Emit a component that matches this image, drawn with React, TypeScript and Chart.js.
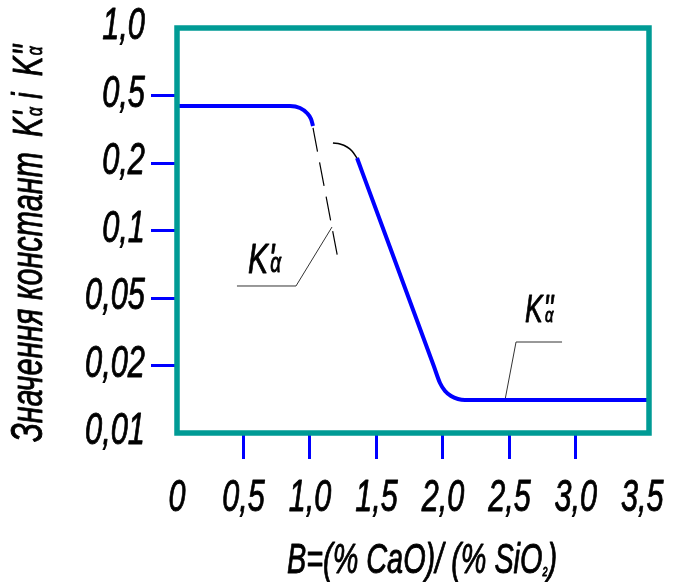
import React, { useEffect, useRef } from "react";
import { Chart, registerables } from "chart.js";

Chart.register(...registerables);

// Axis ticks (y axis is drawn with evenly spaced levels 0..6)
const yTickLabels = ["0,01", "0,02", "0,05", "0,1", "0,2", "0,5", "1,0"];
const yTickLevels = [0, 1, 2, 3, 4, 5, 6];
const xTickValues = [0, 0.5, 1, 1.5, 2, 2.5, 3, 3.5];
const xTickLabels = ["0", "0,5", "1,0", "1,5", "2,0", "2,5", "3,0", "3,5"];

// K'α curve (solid blue part)
const kPrimeB = [0, 0.85, 0.925, 0.977, 1.008, 1.023];
const kPrimeLevel = [4.844, 4.844, 4.815, 4.741, 4.652, 4.548];
// K'α extrapolation (dashed)
const kPrimeDashB = [1.023, 1.218];
const kPrimeDashLevel = [4.519, 2.504];
// K''α start arc (thin black)
const kDoubleArcB = [1.173, 1.226, 1.279, 1.316, 1.354];
const kDoubleArcLevel = [4.296, 4.281, 4.237, 4.178, 4.074];
// K''α curve (solid blue)
const kDoubleB = [1.354, 1.4, 1.93, 1.978, 2.016, 2.061, 2.113, 2.166, 3.55];
const kDoubleLevel = [4.074, 3.828, 1.0, 0.741, 0.622, 0.548, 0.504, 0.489, 0.489];
// leader lines for the labels
const leaderPrimeB = [1.166, 0.895, 0.451];
const leaderPrimeLevel = [3.052, 2.178, 2.178];
const leaderDoubleB = [2.467, 2.55, 2.896];
const leaderDoubleLevel = [0.489, 1.348, 1.348];

const FONT = '"Liberation Sans", Arial, sans-serif';
const font = (s: number) => `italic ${s}px ${FONT}`;

type Run = { t: string; size: number; dx?: number; dy?: number; adv?: boolean };

function drawRuns(
  ctx: CanvasRenderingContext2D,
  x: number,
  y: number,
  parts: Run[],
  sx: number,
  angle = 0,
  align: "left" | "center" | "right" = "left",
  fit = 0,
  bold = 0.9
) {
  ctx.save();
  ctx.translate(x, y);
  if (angle) ctx.rotate(angle);
  let total = 0;
  for (const p of parts) {
    ctx.font = font(p.size);
    if (p.adv !== false) total += ctx.measureText(p.t).width + (p.dx || 0);
  }
  const s = fit > 0 ? fit / total : sx;
  ctx.scale(s, 1);
  let cx = align === "center" ? -total / 2 : align === "right" ? -total : 0;
  ctx.textAlign = "left";
  ctx.textBaseline = "alphabetic";
  ctx.fillStyle = "#000";
  ctx.strokeStyle = "#000";
  ctx.lineJoin = "round";
  ctx.lineWidth = bold;
  for (const p of parts) {
    ctx.font = font(p.size);
    ctx.fillText(p.t, cx + (p.dx || 0), p.dy || 0);
    if (bold > 0) ctx.strokeText(p.t, cx + (p.dx || 0), p.dy || 0);
    if (p.adv !== false) cx += ctx.measureText(p.t).width + (p.dx || 0);
  }
  ctx.restore();
}

const pts = (xs: number[], ys: number[]) => xs.map((x, i) => ({ x, y: ys[i] }));

const decorPlugin = {
  id: "decor",
  afterDatasetsDraw(chart: any) {
    const { ctx, chartArea } = chart;
    const { left, top, right, bottom } = chartArea;
    ctx.save();
    ctx.strokeStyle = "#009B95";
    ctx.lineWidth = 5.5;
    ctx.strokeRect(left, top, right - left, bottom - top);
    ctx.restore();
  },
  afterDraw(chart: any) {
    const { ctx } = chart;
    const xs = chart.scales.x;
    const ys = chart.scales.y;
    xTickValues.forEach((v, i) => {
      drawRuns(ctx, xs.getPixelForValue(v), 511, [{ t: xTickLabels[i], size: 45 }], 0.68, 0, "center");
    });
    yTickLevels.forEach((v, i) => {
      drawRuns(ctx, 145, ys.getPixelForValue(v) + 11, [{ t: yTickLabels[i], size: 44 }], 0.7, 0, "right");
    });
    // x title
    drawRuns(
      ctx,
      422,
      573,
      [
        { t: "B=(% CaO)/ (% SiO", size: 42 },
        { t: "2", size: 13, dy: 3 },
        { t: ")", size: 42 },
      ],
      0.7,
      0,
      "center",
      270
    );
    // y title
    drawRuns(ctx, 42, 442, [{ t: "Значення констант", size: 45 }], 0.7, -Math.PI / 2, "left", 290);
    drawRuns(
      ctx,
      42,
      137,
      [
        { t: "K", size: 42 },
        { t: "'", size: 42, adv: false, dx: 1 },
        { t: "α", size: 22, dx: 2 },
        { t: " і  ", size: 42 },
        { t: "K", size: 42 },
        { t: "''", size: 42, adv: false, dx: 1 },
        { t: "α", size: 22, dx: 2 },
      ],
      0.7,
      -Math.PI / 2,
      "left"
    );
    // K'α label
    const p1x = xs.getPixelForValue(leaderPrimeB[2]) + 11;
    const p1y = ys.getPixelForValue(leaderPrimeLevel[2]) - 13;
    drawRuns(
      ctx,
      p1x,
      p1y,
      [
        { t: "K", size: 43 },
        { t: "'", size: 43, adv: false, dx: 1 },
        { t: "α", size: 27, dx: 3, dy: -1 },
      ],
      0.7
    );
    // K''α label
    const p2x = xs.getPixelForValue(leaderDoubleB[1]) + 9;
    const p2y = ys.getPixelForValue(leaderDoubleLevel[1]) - 20;
    drawRuns(
      ctx,
      p2x,
      p2y,
      [
        { t: "K", size: 38 },
        { t: "''", size: 38, adv: false, dx: 1 },
        { t: "α", size: 21, dx: 3 },
      ],
      0.7
    );
  },
};

export default function App() {
  const ref = useRef<HTMLCanvasElement | null>(null);
  useEffect(() => {
    if (!ref.current) return;
    const blue = "#0000FF";
    const tickColor = (edge: number[]) => (c: any) =>
      c.tick && edge.includes(c.tick.value) ? "rgba(0,0,0,0)" : blue;
    const chart = new Chart(ref.current, {
      type: "line",
      data: {
        datasets: [
          {
            label: "K'α",
            data: pts(kPrimeB, kPrimeLevel),
            borderColor: blue,
            borderWidth: 4,
            pointRadius: 0,
            cubicInterpolationMode: "monotone",
          },
          {
            label: "K'α extrapolation",
            data: pts(kPrimeDashB, kPrimeDashLevel),
            borderColor: "#000",
            borderWidth: 1.2,
            borderDash: [24, 11],
            pointRadius: 0,
          },
          {
            label: "K''α arc",
            data: pts(kDoubleArcB, kDoubleArcLevel),
            borderColor: "#000",
            borderWidth: 1.5,
            pointRadius: 0,
            cubicInterpolationMode: "monotone",
          },
          {
            label: "K''α",
            data: pts(kDoubleB, kDoubleLevel),
            borderColor: blue,
            borderWidth: 4,
            pointRadius: 0,
            cubicInterpolationMode: "monotone",
          },
          {
            label: "leader K'α",
            data: pts(leaderPrimeB, leaderPrimeLevel),
            borderColor: "#333",
            borderWidth: 1,
            pointRadius: 0,
          },
          {
            label: "leader K''α",
            data: pts(leaderDoubleB, leaderDoubleLevel),
            borderColor: "#333",
            borderWidth: 1,
            pointRadius: 0,
          },
        ],
      },
      options: {
        animation: false,
        responsive: false,
        layout: { padding: { left: 151, top: 28, right: 32, bottom: 123 } },
        plugins: { legend: { display: false }, tooltip: { enabled: false } },
        scales: {
          x: {
            type: "linear",
            min: 0,
            max: 3.55,
            afterBuildTicks: (s: any) => {
              s.ticks = xTickValues.map((v) => ({ value: v }));
            },
            ticks: { display: false },
            border: { display: false },
            grid: {
              drawOnChartArea: false,
              drawTicks: true,
              tickLength: 26,
              lineWidth: 3,
              color: tickColor([0, 3.5]),
            },
          },
          y: {
            type: "linear",
            min: 0,
            max: 6,
            afterBuildTicks: (s: any) => {
              s.ticks = yTickLevels.map((v) => ({ value: v }));
            },
            ticks: { display: false },
            border: { display: false },
            grid: {
              drawOnChartArea: false,
              drawTicks: true,
              tickLength: 26,
              lineWidth: 3,
              color: tickColor([0, 6]),
            },
          },
        },
      } as any,
      plugins: [decorPlugin],
    });
    return () => chart.destroy();
  }, []);
  return (
    <div style={{ position: "absolute", left: 0, top: 0, width: 681, height: 582, background: "#fff" }}>
      <canvas ref={ref} width={681} height={582} style={{ display: "block" }} />
    </div>
  );
}
